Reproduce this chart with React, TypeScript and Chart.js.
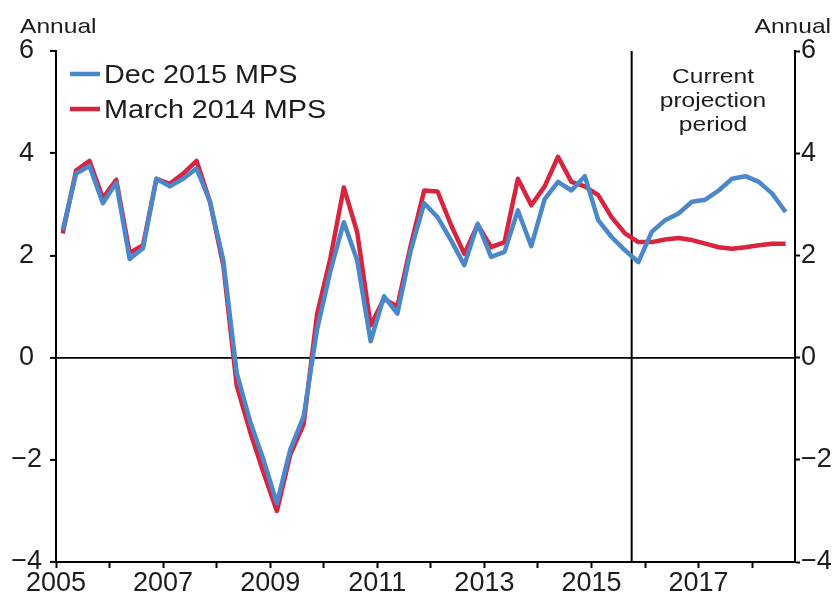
import React, { useEffect, useRef } from "react";
import { Chart, registerables } from "chart.js";

Chart.register(...registerables);

const quarters = [
  "2005Q1","2005Q2","2005Q3","2005Q4","2006Q1","2006Q2","2006Q3","2006Q4",
  "2007Q1","2007Q2","2007Q3","2007Q4","2008Q1","2008Q2","2008Q3","2008Q4",
  "2009Q1","2009Q2","2009Q3","2009Q4","2010Q1","2010Q2","2010Q3","2010Q4",
  "2011Q1","2011Q2","2011Q3","2011Q4","2012Q1","2012Q2","2012Q3","2012Q4",
  "2013Q1","2013Q2","2013Q3","2013Q4","2014Q1","2014Q2","2014Q3","2014Q4",
  "2015Q1","2015Q2","2015Q3","2015Q4","2016Q1","2016Q2","2016Q3","2016Q4",
  "2017Q1","2017Q2","2017Q3","2017Q4","2018Q1","2018Q2","2018Q3",
];

const dec2015MPS = [
  2.49, 3.6, 3.75, 3.02, 3.42, 1.93, 2.14, 3.5, 3.35, 3.5, 3.7, 3.05,
  1.9, -0.3, -1.25, -2.0, -2.85, -1.8, -1.15, 0.55, 1.7, 2.65, 1.9, 0.32,
  1.2, 0.86, 2.1, 3.02, 2.75, 2.3, 1.81, 2.62, 1.97, 2.07, 2.88, 2.18,
  3.1, 3.44, 3.27, 3.55, 2.69, 2.36, 2.1, 1.87, 2.46, 2.69, 2.82, 3.05,
  3.09, 3.27, 3.5, 3.55, 3.44, 3.21, 2.85,
];

const march2014MPS = [
  2.43, 3.66, 3.85, 3.12, 3.48, 2.05, 2.2, 3.5, 3.4, 3.6, 3.85, 3.05,
  1.8, -0.55, -1.45, -2.25, -3.0, -1.9, -1.3, 0.85, 1.95, 3.33, 2.45, 0.63,
  1.15, 1.0, 2.2, 3.27, 3.25, 2.6, 2.03, 2.6, 2.16, 2.26, 3.5, 2.98,
  3.35, 3.93, 3.44, 3.35, 3.18, 2.75, 2.43, 2.26, 2.26, 2.31, 2.34, 2.3,
  2.23, 2.16, 2.13, 2.16, 2.2, 2.23, 2.23,
];

const yearTicks = [2005, 2006, 2007, 2008, 2009, 2010, 2011, 2012, 2013, 2014, 2015, 2016, 2017, 2018];
const yearLabels = ["2005", "", "2007", "", "2009", "", "2011", "", "2013", "", "2015", "", "2017", ""];
const yTicks = [-4, -2, 0, 2, 4, 6];
const yLabels = ["\u22124", "\u22122", "0", "2", "4", "6"];

const seriesNames = ["Dec 2015 MPS", "March 2014 MPS"];
const projectionStart = 2015.75;
const projectionText = ["Current", "projection", "period"];
const unitText = "Annual";

const FONT = '"Liberation Sans", Arial, Helvetica, sans-serif';
const TEXT = "#1e1b1c";
const BLUE = "#4a88cb";
const RED = "#d8243e";

function quarterToX(q: string): number {
  const year = parseInt(q.slice(0, 4), 10);
  const qi = parseInt(q.slice(5), 10);
  return year + (qi - 0.5) / 4;
}

function stretchText(ctx: CanvasRenderingContext2D, text: string, x: number, y: number, align: CanvasTextAlign, sx: number) {
  ctx.save();
  ctx.translate(x, y);
  ctx.scale(sx, 1);
  ctx.textAlign = align;
  ctx.textBaseline = "alphabetic";
  ctx.fillText(text, 0, 0);
  ctx.restore();
}

const annotationPlugin = {
  id: "annotations",
  beforeDatasetsDraw(chart: any) {
    const { ctx, chartArea, scales } = chart;
    const x = scales.x.getPixelForValue(projectionStart);
    ctx.save();
    ctx.strokeStyle = "#000";
    ctx.lineWidth = 2;
    ctx.beginPath();
    ctx.moveTo(x, chartArea.top);
    ctx.lineTo(x, chartArea.bottom);
    ctx.stroke();
    ctx.restore();
  },
  afterDraw(chart: any) {
    const { ctx } = chart;
    ctx.save();
    ctx.fillStyle = TEXT;
    ctx.font = `21px ${FONT}`;
    stretchText(ctx, unitText, 20, 33, "left", 1.17);
    stretchText(ctx, unitText, 831, 33, "right", 1.17);
    const cx = 713;
    stretchText(ctx, projectionText[0], cx, 83, "center", 1.17);
    stretchText(ctx, projectionText[1], cx, 107, "center", 1.17);
    stretchText(ctx, projectionText[2], cx, 131, "center", 1.17);
    const colors = [BLUE, RED];
    const rows = [74, 109];
    ctx.font = `25px ${FONT}`;
    for (let i = 0; i < 2; i++) {
      ctx.strokeStyle = colors[i];
      ctx.lineWidth = 4.5;
      ctx.beginPath();
      ctx.moveTo(70, rows[i]);
      ctx.lineTo(100, rows[i]);
      ctx.stroke();
      ctx.fillStyle = TEXT;
      stretchText(ctx, seriesNames[i], 104, rows[i] + 9.3, "left", 1.15);
    }
    ctx.restore();
  },
};

export default function App() {
  const canvasRef = useRef<HTMLCanvasElement | null>(null);

  useEffect(() => {
    document.body.style.margin = "0";
    const canvas = canvasRef.current;
    if (!canvas) return;
    const blueData = quarters.map((q, i) => ({ x: quarterToX(q), y: dec2015MPS[i] }));
    const redData = quarters.map((q, i) => ({ x: quarterToX(q), y: march2014MPS[i] }));

    const tickFont = { family: FONT, size: 27, lineHeight: 1 };

    const chart = new Chart(canvas, {
      type: "line",
      data: {
        datasets: [
          {
            label: seriesNames[0],
            data: blueData,
            borderColor: BLUE,
            borderWidth: 4.5,
            pointRadius: 0,
            tension: 0,
            borderJoinStyle: "round",
            xAxisID: "x",
            yAxisID: "y",
          },
          {
            label: seriesNames[1],
            data: redData,
            borderColor: RED,
            borderWidth: 4.5,
            pointRadius: 0,
            tension: 0,
            borderJoinStyle: "round",
            xAxisID: "x",
            yAxisID: "y",
          },
        ],
      },
      options: {
        animation: false,
        responsive: false,
        devicePixelRatio: 1,
        layout: { padding: { top: 51, left: 0, right: 0, bottom: 0 } },
        plugins: {
          legend: { display: false },
          title: { display: false },
          tooltip: { enabled: false },
        },
        scales: {
          x: {
            type: "linear",
            min: 2005,
            max: 2018.8,
            afterBuildTicks: (scale: any) => {
              scale.ticks = yearTicks.map((v) => ({ value: v }));
            },
            afterFit: (scale: any) => {
              scale.height = 39;
            },
            ticks: {
              autoSkip: false,
              maxRotation: 0,
              padding: 2,
              color: TEXT,
              font: tickFont,
              callback: (value: any) => {
                const idx = yearTicks.indexOf(Number(value));
                return idx >= 0 ? yearLabels[idx] : "";
              },
            },
            grid: {
              drawOnChartArea: false,
              drawTicks: true,
              tickLength: 6,
              tickColor: "#000",
              tickWidth: 2,
            },
            border: { display: true, color: "#000", width: 2 },
          },
          y: {
            type: "linear",
            position: "left",
            min: -4,
            max: 6,
            afterBuildTicks: (scale: any) => {
              scale.ticks = yTicks.map((v) => ({ value: v }));
            },
            afterFit: (scale: any) => {
              scale.width = 56;
            },
            ticks: {
              padding: 8,
              crossAlign: "center",
              color: TEXT,
              font: tickFont,
              callback: (value: any) => {
                const idx = yTicks.indexOf(Number(value));
                return idx >= 0 ? yLabels[idx] : "";
              },
            },
            grid: {
              drawOnChartArea: true,
              drawTicks: true,
              tickLength: 6,
              tickColor: "#000",
              tickWidth: 2,
              lineWidth: 1.8,
              color: (c: any) => (c.tick && c.tick.value === 0 ? "#000" : "rgba(0,0,0,0)"),
            },
            border: { display: true, color: "#000", width: 2 },
          },
          y2: {
            type: "linear",
            position: "right",
            min: -4,
            max: 6,
            afterBuildTicks: (scale: any) => {
              scale.ticks = yTicks.map((v) => ({ value: v }));
            },
            afterFit: (scale: any) => {
              scale.width = 42;
            },
            ticks: {
              padding: 1,
              color: TEXT,
              font: tickFont,
              callback: (value: any) => {
                const idx = yTicks.indexOf(Number(value));
                return idx >= 0 ? yLabels[idx] : "";
              },
            },
            grid: {
              drawOnChartArea: false,
              drawTicks: true,
              tickLength: 5,
              tickColor: "#000",
              tickWidth: 2,
            },
            border: { display: true, color: "#000", width: 2 },
          },
        },
      },
      plugins: [annotationPlugin],
    } as any);

    return () => {
      chart.destroy();
    };
  }, []);

  return (
    <div style={{ position: "relative", width: 837, height: 601, background: "#fff" }}>
      <canvas ref={canvasRef} width={837} height={601} style={{ display: "block" }} />
    </div>
  );
}
